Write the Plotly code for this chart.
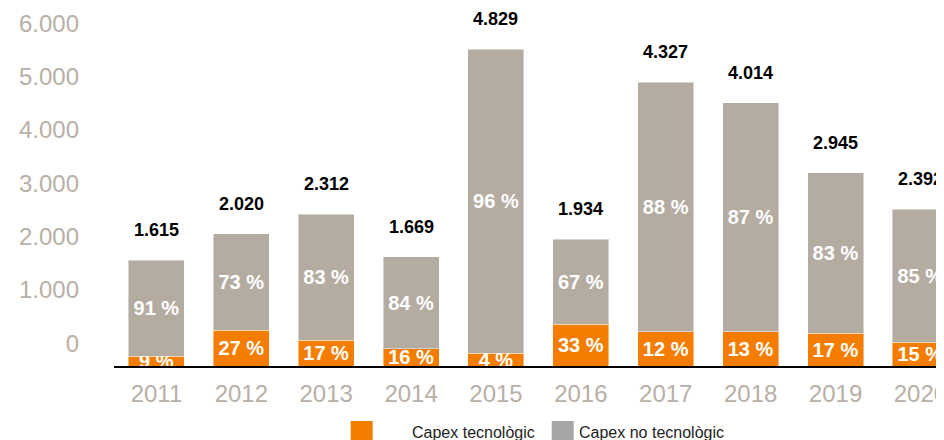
import plotly.graph_objects as go

years = ["2011", "2012", "2013", "2014", "2015", "2016", "2017", "2018", "2019", "2020"]
totals = [1615, 2020, 2312, 1669, 4829, 1934, 4327, 4014, 2945, 2392]
pct_tech = [9, 27, 17, 16, 4, 33, 12, 13, 17, 15]
pct_notech = [91, 73, 83, 84, 96, 67, 88, 87, 83, 85]
axis_ticks = [0, 1000, 2000, 3000, 4000, 5000, 6000]
legend_names = ["Capex tecnològic", "Capex no tecnològic"]

tech = [t * p / 100 for t, p in zip(totals, pct_tech)]
notech = [t - v for t, v in zip(totals, tech)]

ORANGE = "#f47d00"
GREY = "#b4aba1"
LEG_GREY = "#a6a6a6"
TICK = "#b8afa6"
FONT = "Liberation Sans, Arial, sans-serif"

# layout geometry (figure pixels; the page shows the figure offset by the body margin)
W, H = 944, 440
L, R, T, B = 106, 8, 0, 82
PW, PH = W - L - R, H - T - B


def px_x(fx):
    return (fx - L) / PW


def px_y(fy):
    return (T + PH - fy) / PH


fig = go.Figure()
fig.add_trace(go.Bar(
    x=years, y=tech, name=legend_names[0],
    marker=dict(color=ORANGE, line=dict(color="rgba(255,255,255,0.45)", width=1)),
    text=[f"{p} %" for p in pct_tech], textposition="inside",
    insidetextanchor="middle", constraintext="none",
    textfont=dict(color="white", size=20, family=FONT, weight="bold"),
    showlegend=False, hoverinfo="skip", cliponaxis=True,
))
fig.add_trace(go.Bar(
    x=years, y=notech, name=legend_names[1],
    marker=dict(color=GREY, line=dict(color="rgba(255,255,255,0.45)", width=1)),
    text=[f"{p} %" for p in pct_notech], textposition="inside",
    insidetextanchor="middle", constraintext="none",
    textfont=dict(color="white", size=20, family=FONT, weight="bold"),
    showlegend=False, hoverinfo="skip", cliponaxis=True,
))
# invisible trace so the secondary (label) axis is drawn
fig.add_trace(go.Scatter(x=[years[0]], y=[0], yaxis="y2", mode="markers",
                         marker=dict(opacity=0), showlegend=False, hoverinfo="skip"))

for i, t in enumerate(totals):
    fig.add_annotation(x=i, y=t, xref="x", yref="y",
                       text="<b>" + f"{t:,}".replace(",", ".") + "</b>",
                       showarrow=False, yanchor="middle", yshift=30,
                       font=dict(size=18, color="black", family=FONT))

# manual legend (squares + labels)
legend_cols = [ORANGE, LEG_GREY]
legend_sq_x = [342.7, 543.7]
legend_txt_x = [402, 569]
for name, col, sx, tx in zip(legend_names, legend_cols, legend_sq_x, legend_txt_x):
    fig.add_shape(type="rect", xref="paper", yref="paper",
                  x0=px_x(sx), x1=px_x(sx + 22), y0=px_y(435), y1=px_y(413),
                  fillcolor=col, line=dict(width=0), layer="above")
    fig.add_annotation(xref="paper", yref="paper", x=px_x(tx), y=px_y(424),
                       xanchor="left", yanchor="middle", showarrow=False,
                       text=name, font=dict(size=16, color="#1e1e1e", family=FONT))

fig.update_layout(
    width=W, height=H,
    margin=dict(l=L, r=R, t=T, b=B),
    barmode="stack", bargap=0.34,
    plot_bgcolor="white", paper_bgcolor="white",
    separators=",.",
    font=dict(family=FONT),
    xaxis=dict(type="category", range=[-0.5, 9.278], showgrid=False,
               showline=True, linecolor="black", linewidth=2, ticks="",
               tickfont=dict(size=24, color=TICK, family=FONT), ticklabelstandoff=5),
    yaxis=dict(range=[0, 5461.5], showticklabels=False, showgrid=False,
               zeroline=False, showline=False, ticks=""),
    yaxis2=dict(overlaying="y", side="left", range=[-426, 6287],
                tickvals=axis_ticks, tickformat=",d", showgrid=False, zeroline=False,
                showline=False, ticks="", ticklabelstandoff=34,
                tickfont=dict(size=24, color=TICK, family=FONT)),
)

fig.write_html("out.html")
